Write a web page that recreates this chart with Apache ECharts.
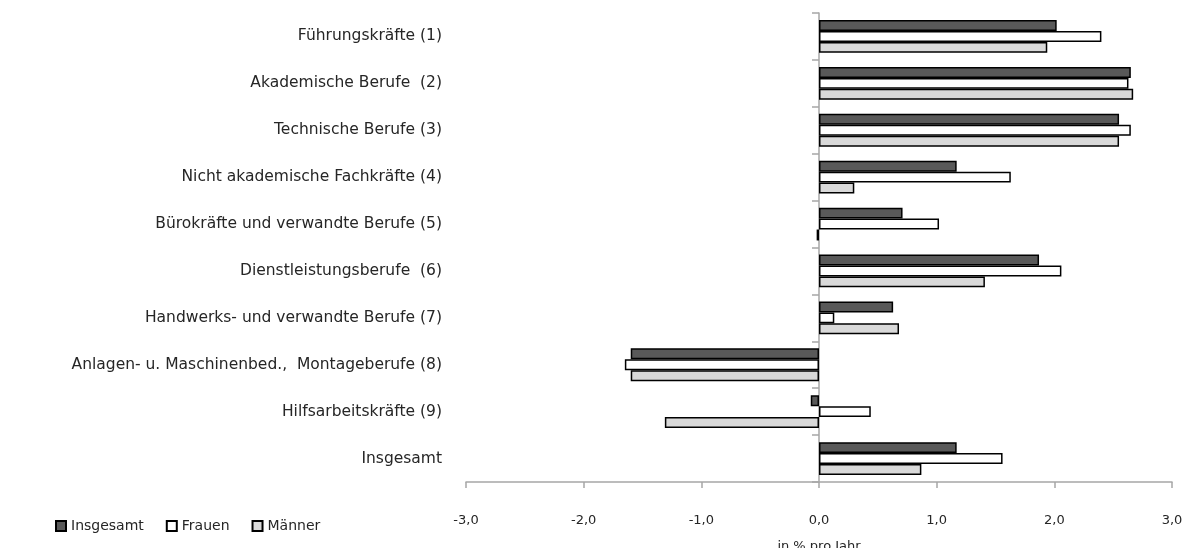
<!DOCTYPE html>
<html>
<head>
<meta charset="utf-8">
<script src="https://cdn.jsdelivr.net/npm/echarts@6/dist/echarts.min.js"></script>
<style>
html,body{margin:0;padding:0;background:#fff;}
#chart{width:1185px;height:548px;}
</style>
</head>
<body>
<div id="chart"></div>
<script>
const categories = [
  'Führungskräfte (1)',
  'Akademische Berufe  (2)',
  'Technische Berufe (3)',
  'Nicht akademische Fachkräfte (4)',
  'Bürokräfte und verwandte Berufe (5)',
  'Dienstleistungsberufe  (6)',
  'Handwerks- und verwandte Berufe (7)',
  'Anlagen- u. Maschinenbed.,  Montageberufe (8)',
  'Hilfsarbeitskräfte (9)',
  'Insgesamt'
];
const seriesNames = ['Insgesamt', 'Frauen', 'Männer'];
const insgesamt = [2.02, 2.65, 2.55, 1.17, 0.71, 1.87, 0.63, -1.60, -0.07, 1.17];
const frauen    = [2.40, 2.63, 2.65, 1.63, 1.02, 2.06, 0.13, -1.65, 0.44, 1.56];
const maenner   = [1.94, 2.67, 2.55, 0.30, -0.02, 1.41, 0.68, -1.60, -1.31, 0.87];
const xTicks = { min: -3, max: 3, interval: 1 };
const axisName = 'in % pro Jahr';

const FONT = 'DejaVu Sans';
const colors = ['#595959', '#ffffff', '#d9d9d9'];
const values = [insgesamt, frauen, maenner];

const chart = echarts.init(document.getElementById('chart'), null, { renderer: 'canvas' });
chart.setOption({
  animation: false,
  textStyle: { fontFamily: FONT },
  grid: { left: 466, right: 13, top: 13, bottom: 66, containLabel: false, outerBoundsMode: 'none' },
  legend: {
    left: 50, top: 514,
    itemWidth: 10, itemHeight: 10, itemGap: 22,
    icon: 'rect',
    textStyle: { fontFamily: FONT, fontSize: 14, color: '#262626' },
    data: seriesNames
  },
  xAxis: {
    type: 'value',
    min: xTicks.min, max: xTicks.max, interval: xTicks.interval,
    axisLine: { show: true, onZero: false, lineStyle: { color: '#a6a6a6', width: 1.5 } },
    axisTick: { show: true, inside: false, length: 6, lineStyle: { color: '#a6a6a6', width: 1.5 } },
    splitLine: { show: false },
    axisLabel: {
      margin: 32, fontSize: 13, color: '#262626', fontFamily: FONT,
      formatter: v => v.toFixed(1).replace('.', ',')
    },
    name: axisName, nameLocation: 'middle', nameGap: 58,
    nameTextStyle: { fontSize: 13, color: '#262626', fontFamily: FONT }
  },
  yAxis: [
    {
      type: 'category', data: categories, inverse: true, position: 'left',
      axisLine: { show: false, onZero: false }, axisTick: { show: false },
      axisLabel: { margin: 24, fontSize: 15.5, color: '#262626', fontFamily: FONT, padding: [2, 0, 0, 0] }
    },
    {
      type: 'category', data: categories, inverse: true, position: 'left',
      axisLine: { show: true, onZero: true, onZeroAxisIndex: 0, lineStyle: { color: '#a6a6a6', width: 1.5 } },
      axisTick: { show: true, inside: false, length: 7, lineStyle: { color: '#a6a6a6', width: 1.5 } },
      axisLabel: { show: false }
    }
  ],
  series: seriesNames.map((n, i) => ({
    name: n, type: 'bar', yAxisIndex: 0,
    data: values[i],
    barGap: '0%', barCategoryGap: '30%',
    itemStyle: { color: colors[i], borderColor: '#000000', borderWidth: 1.5 }
  }))
});
</script>
</body>
</html>
